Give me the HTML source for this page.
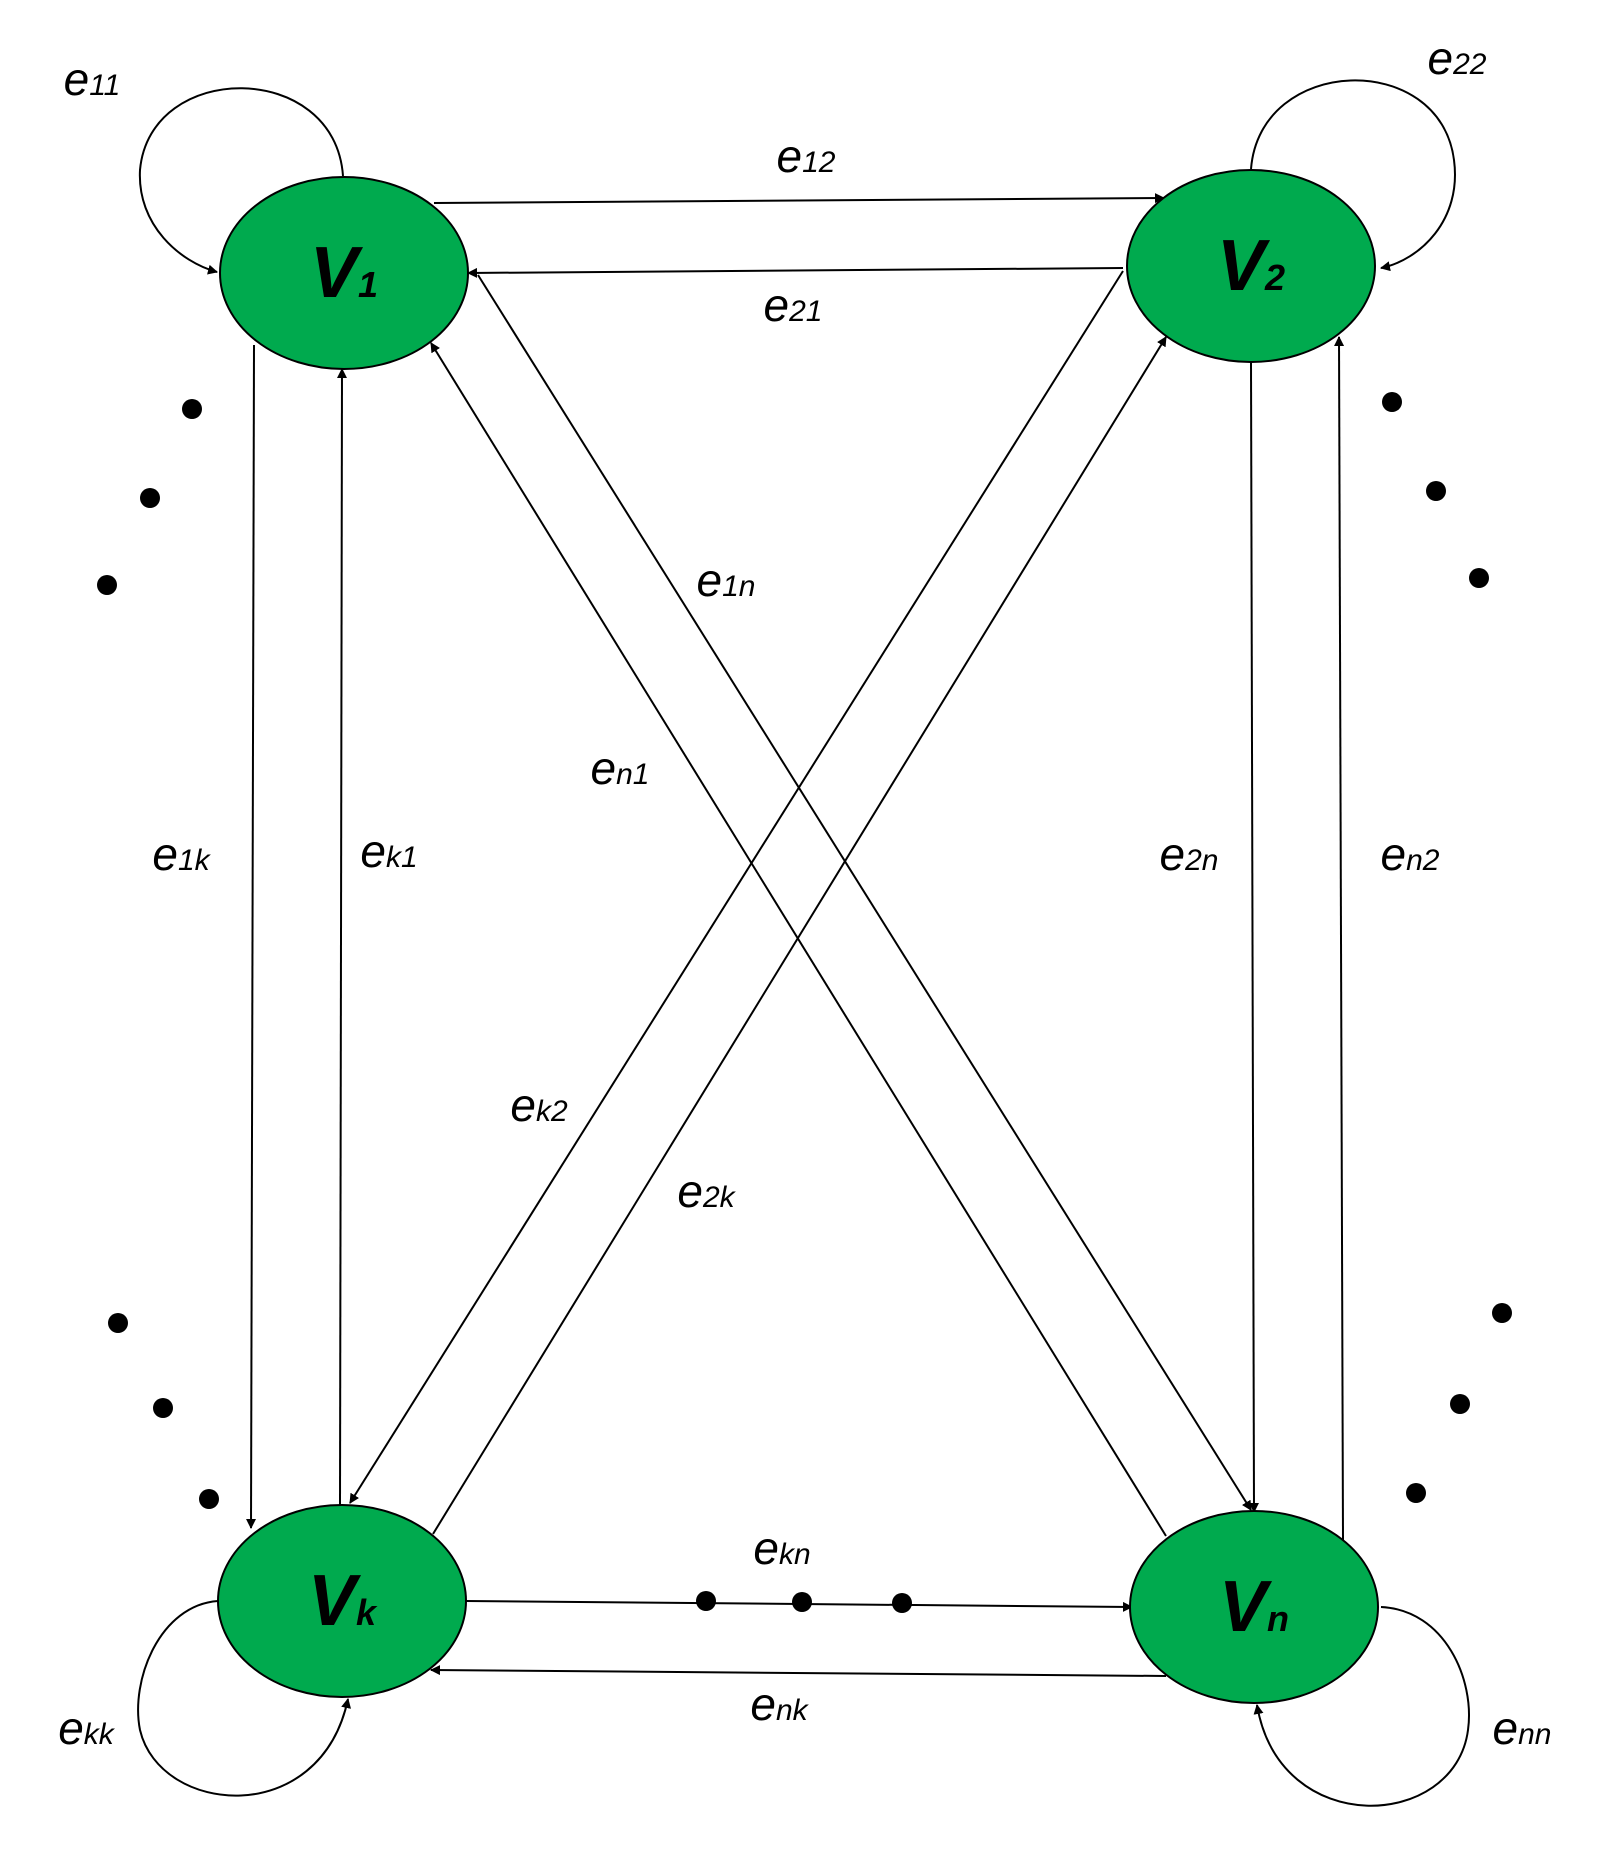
<!DOCTYPE html>
<html><head><style>html,body{margin:0;padding:0;background:#fff;}svg{display:block;}</style></head>
<body>
<svg width="1600" height="1859" viewBox="0 0 1600 1859" xmlns="http://www.w3.org/2000/svg" font-family="Liberation Sans, Arial, sans-serif">
<defs>
<marker id="a" markerWidth="10" markerHeight="10" refX="9" refY="5" orient="auto" markerUnits="userSpaceOnUse" viewBox="0 0 10 10">
<path d="M0,0 L10,5 L0,10 z" fill="#000"/>
</marker>
</defs>
<style>
.l{stroke:#000;stroke-width:2;fill:none;marker-end:url(#a);}
.t{font-size:46px;font-style:italic;fill:#000;}
.s{font-size:30px;}
.v{font-size:72px;font-style:italic;font-weight:bold;fill:#000;}
.vs{font-size:36px;}
</style>
<g>
<path class="l" d="M434,203 L1164,198" style="marker-end:url(#a)" markerWidth="20"/>
<path class="l" d="M1123,268 L468,273"/>
<path class="l" d="M254,345 L251,1528"/>
<path class="l" d="M340,1505 L342,369"/>
<path class="l" d="M478,275 L1251,1510"/>
<path class="l" d="M1166,1536 L431,343"/>
<path class="l" d="M1123,271 L350,1503"/>
<path class="l" d="M433,1534 L1166,337"/>
<path class="l" d="M1251,362 L1254,1512"/>
<path class="l" d="M1343,1540 L1339,337"/>
<path class="l" d="M466,1601 L1132,1607"/>
<path class="l" d="M1166,1676 L431,1670"/>
<path class="l" d="M343,176 C335,60 150,60 140,170 C137,225 180,262 217,272"/>
<path class="l" d="M1251,169 C1260,55 1440,50 1454,160 C1462,220 1420,260 1381,268"/>
<path class="l" d="M218,1601 C160,1605 130,1680 140,1730 C160,1815 320,1830 348,1699"/>
<path class="l" d="M1381,1607 C1445,1610 1475,1680 1468,1730 C1455,1830 1280,1840 1257,1705"/>
</g>
<g fill="#00aa4e" stroke="#000" stroke-width="2">
<ellipse cx="344" cy="273" rx="124" ry="96"/>
<ellipse cx="1251" cy="266" rx="124" ry="96"/>
<ellipse cx="342" cy="1601" rx="124" ry="96"/>
<ellipse cx="1254" cy="1607" rx="124" ry="96"/>
</g>
<text class="v" x="344" y="297" text-anchor="middle">V<tspan class="vs">1</tspan></text>
<text class="v" x="1251" y="290" text-anchor="middle">V<tspan class="vs">2</tspan></text>
<text class="v" x="342" y="1625" text-anchor="middle">V<tspan class="vs">k</tspan></text>
<text class="v" x="1254" y="1631" text-anchor="middle">V<tspan class="vs">n</tspan></text>
<g fill="#000">
<circle cx="192" cy="409" r="10"/><circle cx="150" cy="498" r="10"/><circle cx="107" cy="585" r="10"/>
<circle cx="1392" cy="402" r="10"/><circle cx="1436" cy="491" r="10"/><circle cx="1479" cy="578" r="10"/>
<circle cx="118" cy="1323" r="10"/><circle cx="163" cy="1408" r="10"/><circle cx="209" cy="1499" r="10"/>
<circle cx="1502" cy="1313" r="10"/><circle cx="1460" cy="1404" r="10"/><circle cx="1416" cy="1493" r="10"/>
<circle cx="706" cy="1601" r="10"/><circle cx="802" cy="1602" r="10"/><circle cx="902" cy="1603" r="10"/>
</g>
<g class="t" text-anchor="middle">
<text class="t" x="92" y="95" text-anchor="middle">e<tspan class="s">11</tspan></text>
<text class="t" x="1457" y="74" text-anchor="middle">e<tspan class="s">22</tspan></text>
<text class="t" x="806" y="172" text-anchor="middle">e<tspan class="s">12</tspan></text>
<text class="t" x="793" y="321" text-anchor="middle">e<tspan class="s">21</tspan></text>
<text class="t" x="726" y="596" text-anchor="middle">e<tspan class="s">1n</tspan></text>
<text class="t" x="620" y="784" text-anchor="middle">e<tspan class="s">n1</tspan></text>
<text class="t" x="181" y="870" text-anchor="middle">e<tspan class="s">1k</tspan></text>
<text class="t" x="389" y="867" text-anchor="middle">e<tspan class="s">k1</tspan></text>
<text class="t" x="1189" y="870" text-anchor="middle">e<tspan class="s">2n</tspan></text>
<text class="t" x="1410" y="870" text-anchor="middle">e<tspan class="s">n2</tspan></text>
<text class="t" x="539" y="1121" text-anchor="middle">e<tspan class="s">k2</tspan></text>
<text class="t" x="706" y="1207" text-anchor="middle">e<tspan class="s">2k</tspan></text>
<text class="t" x="782" y="1564" text-anchor="middle">e<tspan class="s">kn</tspan></text>
<text class="t" x="779" y="1720" text-anchor="middle">e<tspan class="s">nk</tspan></text>
<text class="t" x="86" y="1744" text-anchor="middle">e<tspan class="s">kk</tspan></text>
<text class="t" x="1522" y="1744" text-anchor="middle">e<tspan class="s">nn</tspan></text>
</g>
</svg>
</body></html>
